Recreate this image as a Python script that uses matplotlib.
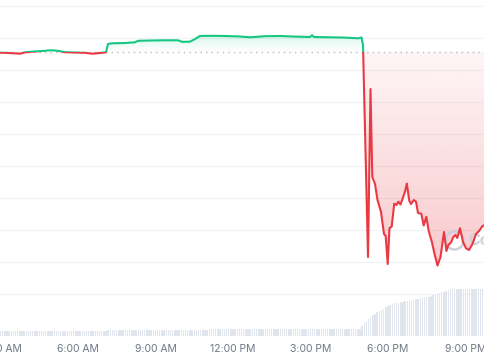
import numpy as np
import matplotlib
matplotlib.use("Agg")
import matplotlib.pyplot as plt
import matplotlib.colors as mcolors
from matplotlib.patches import PathPatch, Rectangle

# ---------------- data ----------------
# time of day in hours (3.0 = 3:00 AM)
hours = [2.981, 3.174, 3.445, 3.755, 3.949, 4.336, 4.723, 4.916, 5.110, 5.304,
         5.497, 5.884, 6.271, 6.542, 6.852, 7.084, 7.161, 7.316, 7.820, 8.207,
         8.323, 8.788, 9.368, 9.872, 10.027, 10.336, 10.530, 10.724, 11.111, 11.692,
         12.272, 12.659, 13.240, 13.821, 14.402, 14.982, 15.060, 15.137, 15.756, 16.337,
         16.840, 16.976, 17.034, 17.228, 17.324, 17.394, 17.499, 17.595, 17.731, 17.847,
         17.913, 17.990, 18.060, 18.145, 18.242, 18.331, 18.401, 18.486, 18.583, 18.660,
         18.730, 18.823, 18.892, 19.001, 19.086, 19.164, 19.291, 19.384, 19.485, 19.578,
         19.706, 19.794, 19.918, 20.034, 20.170, 20.263, 20.336, 20.441, 20.530, 20.615,
         20.685, 20.789, 20.906, 21.022, 21.138, 21.273, 21.409, 21.525, 21.661, 21.757]

price = [0.97703, 0.97688, 0.97625, 0.97547, 0.97766, 0.97891, 0.98000, 0.98078, 0.98047, 0.97938,
         0.97781, 0.97734, 0.97688, 0.97547, 0.97656, 0.97766, 0.99063, 0.99172, 0.99219, 0.99328,
         0.99563, 0.99609, 0.99641, 0.99641, 0.99406, 0.99422, 0.99844, 1.00313, 1.00344, 1.00313,
         1.00234, 1.00109, 1.00281, 1.00313, 1.00219, 1.00156, 1.00422, 1.00156, 1.00109, 1.00063,
         0.99953, 1.00078, 0.98906, 0.65781, 0.92031, 0.78281, 0.77188, 0.74688, 0.72813, 0.69375,
         0.69063, 0.64688, 0.70313, 0.70516, 0.74109, 0.73906, 0.74422, 0.73984, 0.75078, 0.75984,
         0.77266, 0.74609, 0.74063, 0.74688, 0.74422, 0.72656, 0.72547, 0.70703, 0.72078, 0.69844,
         0.68047, 0.66406, 0.64453, 0.65781, 0.69688, 0.66719, 0.67656, 0.68047, 0.68906, 0.69219,
         0.68750, 0.70281, 0.68125, 0.67141, 0.66875, 0.67813, 0.69375, 0.69844, 0.70625, 0.70781]

open_price = 0.978125

# 5-minute volume bars starting 3:00 AM (millions)
volume = [4.7, 4.7, 4.8, 4.7, 4.7, 4.7, 4.8, 4.7, 4.7, 4.7,
          4.7, 4.8, 4.7, 4.7, 4.7, 4.7, 4.7, 4.8, 4.7, 4.7,
          4.7, 4.7, 4.7, 4.8, 4.7, 4.7, 4.7, 4.7, 4.7, 4.7,
          4.8, 4.7, 4.7, 4.7, 4.7, 4.7, 4.7, 4.8, 4.7, 4.7,
          4.7, 4.7, 4.7, 4.7, 4.8, 4.7, 4.7, 4.7, 4.7, 4.7,
          6.4, 6.4, 6.4, 6.4, 6.4, 6.4, 6.4, 6.4, 6.4, 6.4,
          6.4, 6.4, 6.4, 6.4, 6.4, 6.4, 6.4, 6.4, 6.4, 6.4,
          6.4, 6.4, 6.4, 6.4, 6.4, 6.4, 6.4, 6.4, 6.4, 6.4,
          6.4, 6.4, 6.4, 6.4, 6.4, 6.4, 6.4, 6.4, 6.4, 6.4,
          6.4, 6.4, 6.4, 6.4, 6.4, 6.4, 6.4,
          7.4, 7.4, 7.4, 7.4, 7.4, 7.4, 7.4, 7.4, 7.4, 7.4,
          7.4, 7.4, 7.4, 7.4, 7.4, 7.4, 7.4, 7.4, 7.4, 7.4,
          7.4, 7.4, 7.4, 7.4, 7.4, 7.4, 7.4, 7.4, 7.4, 7.4,
          7.4, 7.4, 7.4, 7.4, 7.4, 7.4, 7.4, 7.4, 7.4, 7.4,
          7.4, 7.4, 7.4, 7.4, 7.4, 7.4, 7.4, 7.4, 7.4, 7.4,
          7.4, 7.4, 7.4, 7.4, 7.4, 7.4, 7.4, 7.4, 7.4, 7.4,
          7.4, 7.4, 7.4, 7.4, 7.4, 7.4, 7.4, 7.4, 7.4, 7.4,
          7.4,
          10.5, 13.5, 15.5, 17.5, 19.2, 21.0, 22.5, 23.8, 25.0, 26.2,
          27.5, 28.8, 30.0, 31.2, 32.4, 32.8, 33.2, 33.5, 33.9, 34.3,
          34.7, 35.2, 35.6, 36.0, 36.4, 36.8, 37.3, 37.7, 38.1, 38.6,
          39.0, 39.4, 40.0, 40.8, 41.7, 42.5, 43.2, 43.8, 44.4, 45.2,
          46.0, 46.7, 47.0, 47.3,
          47.4, 47.4, 47.4, 47.4, 47.4, 47.4, 47.4, 47.4, 47.4, 47.4,
          47.4, 47.4, 47.4, 47.4]

tick_hours = [3, 6, 9, 12, 15, 18, 21]
tick_labels = ["3:00 AM", "6:00 AM", "9:00 AM", "12:00 PM", "3:00 PM", "6:00 PM", "9:00 PM"]
grid_levels = [1.05, 1.00, 0.95, 0.90, 0.85, 0.80, 0.75, 0.70, 0.65, 0.60]

# ---------------- style ----------------
GREEN = "#16c784"
RED = "#ea3943"
VOL = "#e0e5ee"

hours = np.array(hours)
price = np.array(price)
vol_hours = 3 + np.arange(len(volume)) / 12.0

X0, X1 = 2.9806, 21.757
Y0, Y1 = 0.534375, 1.059375

fig = plt.figure(figsize=(4.85, 3.6), dpi=100)
fig.patch.set_facecolor("white")

axv = fig.add_axes([0, 24 / 360, 1, 336 / 360])
ax = fig.add_axes([0, 24 / 360, 1, 336 / 360], sharex=axv)
ax.patch.set_visible(False)

# volume bars
axv.bar(vol_hours, volume, width=0.055, color=VOL, linewidth=0, zorder=2)
axv.set_ylim(0, 336)
axv.set_xlim(X0, X1)
for s in axv.spines.values():
    s.set_visible(False)
axv.set_yticks([])
axv.tick_params(axis="x", length=0, pad=6, labelsize=7.5, labelcolor="#6f7785")
axv.set_xticks(tick_hours)
axv.set_xticklabels(tick_labels, fontfamily=["Inter", "DejaVu Sans"])

# gridlines
for g in grid_levels:
    axv.axhline((g - Y0) / (Y1 - Y0) * 336, color="#f0f2f5", lw=0.8, zorder=1)

# gradient fills
def gradient_fill(x, ylow, yhigh, color, a_top, a_bot, ybot, ytop):
    poly = ax.fill_between(x, ylow, yhigh, facecolor="none", edgecolor="none")
    path = poly.get_paths()[0]
    n = 256
    img = np.zeros((n, 1, 4))
    img[:, :, :3] = mcolors.to_rgb(color)
    img[:, 0, 3] = np.linspace(a_top, a_bot, n)
    im = ax.imshow(img, extent=[x.min(), x.max(), ybot, ytop], aspect="auto",
                   origin="upper", zorder=1, interpolation="bilinear")
    patch = PathPatch(path, transform=ax.transData, facecolor="none", edgecolor="none")
    im.set_clip_path(patch)

upper = np.maximum(price, open_price)
lower = np.minimum(price, open_price)
gradient_fill(hours, np.full_like(price, open_price), upper, GREEN, 0.16, 0.0,
              open_price, upper.max())
gradient_fill(hours, lower, np.full_like(price, open_price), RED, 0.05, 0.27,
              lower.min(), open_price)

# baseline (open price)
ax.axhline(open_price, color="#b8bcc6", lw=1.0, ls=(0, (1, 3)), zorder=2)

# watermark
ax.plot([20.569], [0.684375], marker="o", ms=13, mfc="none", mec="#c6cfdc", mew=1.8,
        zorder=3, alpha=0.9)
ax.text(21.099, 0.684375, "CoinMarketCap", color="#c6cfdc", fontsize=11.5,
        fontweight="bold", va="center", ha="left", zorder=3,
        fontfamily=["Inter", "DejaVu Sans"], alpha=0.9)

# price line split at open price
lg, = ax.plot(hours, price, color=GREEN, lw=1.5, zorder=4, solid_joinstyle="round")
lr, = ax.plot(hours, price, color=RED, lw=1.5, zorder=4, solid_joinstyle="round")
clip_up = Rectangle((X0 - 1, open_price), X1 - X0 + 2, 10, transform=ax.transData)
clip_dn = Rectangle((X0 - 1, open_price - 10), X1 - X0 + 2, 10, transform=ax.transData)
lg.set_clip_path(clip_up)
lr.set_clip_path(clip_dn)

ax.set_xlim(X0, X1)
ax.set_ylim(Y0, Y1)
ax.set_yticks([])
ax.tick_params(axis="x", bottom=False, labelbottom=False)
for s in ax.spines.values():
    s.set_visible(False)

fig.savefig("out.png", dpi=100, facecolor="white")
